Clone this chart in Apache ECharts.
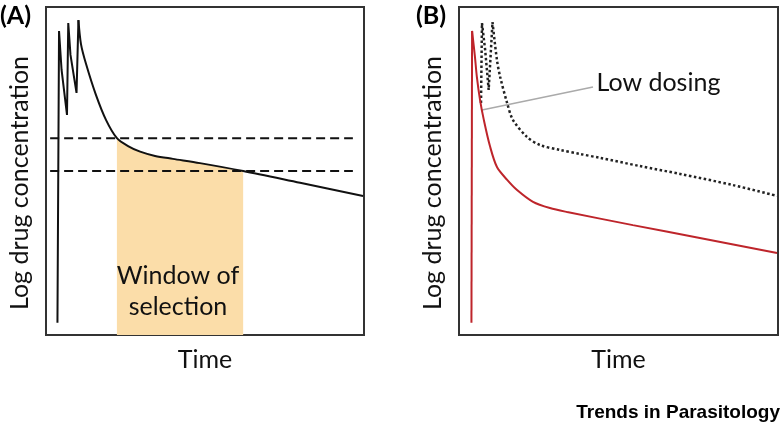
<!DOCTYPE html>
<html>
<head>
<meta charset="utf-8">
<script src="https://cdn.jsdelivr.net/npm/echarts@6/dist/echarts.min.js"></script>
<style>
  html, body { margin: 0; padding: 0; background: #fff; }
  #chart { width: 784px; height: 427px; }
</style>
</head>
<body>
<div id="chart"></div>
<script>
// ---------- Data (arbitrary units: time 0-100, log concentration 0-100) ----------
// Panel A: repeated dosing curve
const curveATime = [3.6, 4.1, 4.9, 6.6, 7.0, 7.7, 9.6, 10.2, 11.0, 12.6, 15.7, 18.9, 22.3, 25.8, 29.6, 34.3, 39.9, 48.4, 62.0, 79.9, 99.7];
const curveAConc = [3.7, 92.7, 80.8, 67.1, 95.1, 85.4, 73.8, 96.0, 88.7, 82.6, 73.2, 65.5, 60.0, 57.6, 55.9, 54.6, 53.7, 52.4, 50.0, 46.4, 42.4];
// Threshold concentrations (dashed lines) and their time span
const thresholdConc = [60, 50];
const thresholdSpan = [1.3, 96.5];
// Window of selection (time bounds)
const windowBounds = [22.3, 62.0];

// Panel B: low dosing (red) and standard dosing (dotted)
const lowDoseTime = [3.9, 4.1, 5.0, 5.6, 6.6, 7.8, 9.7, 11.9, 15.1, 18.2, 23.2, 28.5, 33.9, 54.5, 75.5, 99.7];
const lowDoseConc = [3.7, 92.7, 84.8, 78.7, 71.6, 65.5, 57.6, 51.2, 47.3, 44.2, 40.6, 38.7, 37.5, 33.5, 29.6, 25.0];
const stdDoseTime = [6.9, 7.2, 8.2, 9.3, 10.5, 11.9, 12.9, 15.1, 16.9, 21.3, 25.4, 31.7, 37.9, 44.2, 56.7, 69.3, 85.9, 99.7];
const stdDoseConc = [70.7, 95.1, 86.9, 74.7, 95.4, 83.8, 78.7, 70.7, 65.6, 60.4, 57.9, 56.4, 55.2, 54.0, 51.5, 49.1, 45.7, 42.4];
// Annotation pointer for "Low dosing"
const pointerTime = [7.2, 42.0];
const pointerConc = [68.6, 75.6];

// Text
const panelLabels = ['(A)', '(B)'];
const xAxisTitle = 'Time';
const yAxisTitle = 'Log drug concentration';
const windowLabel = 'Window of\nselection';
const pointerLabel = 'Low dosing';
const sourceLabel = 'Trends in Parasitology';

// ---------- Build ----------
const zip = (xs, ys) => xs.map((x, i) => [x, ys[i]]);
// split a curve at its last dose peak: sharp dosing part + smooth elimination part
function splitAtLastPeak(pts) {
  let k = 0;
  for (let i = 1; i < pts.length - 1; i++) {
    if (pts[i][1] > pts[i - 1][1] && pts[i][1] > pts[i + 1][1]) k = i;
  }
  return [pts.slice(0, k + 1), pts.slice(k)];
}
const curveA = zip(curveATime, curveAConc);
const [dosingA, decayA] = splitAtLastPeak(curveA);
const windowArea = curveA.filter(p => p[0] >= windowBounds[0] && p[0] <= windowBounds[1]);
const [dosingLow, decayLow] = splitAtLastPeak(zip(lowDoseTime, lowDoseConc));
const [dosingStd, decayStd] = splitAtLastPeak(zip(stdDoseTime, stdDoseConc));

const FONT = 'Lato';
const textColor = '#111';
const RED = '#BE252B';
const SMOOTH = 0.3;

function axisPair(gridIndex) {
  return {
    x: {
      type: 'value', gridIndex, min: 0, max: 100,
      axisLine: { show: false }, axisTick: { show: false }, axisLabel: { show: false }, splitLine: { show: false },
      name: xAxisTitle, nameLocation: 'middle', nameGap: 12,
      nameTextStyle: { fontFamily: FONT, fontSize: 25, color: textColor }
    },
    y: {
      type: 'value', gridIndex, min: 0, max: 100,
      axisLine: { show: false }, axisTick: { show: false }, axisLabel: { show: false }, splitLine: { show: false },
      name: yAxisTitle, nameLocation: 'middle', nameRotate: 90, nameGap: 14,
      nameTextStyle: { fontFamily: FONT, fontSize: 25, color: textColor, padding: [0, 24, 0, 0] }
    }
  };
}
const axA = axisPair(0), axB = axisPair(1);

function lineSeries(name, gi, data, lineStyle, z, smooth) {
  return {
    name, type: 'line', xAxisIndex: gi, yAxisIndex: gi, data, showSymbol: false,
    smooth: smooth ? SMOOTH : false,
    lineStyle, z
  };
}

const option = {
  animation: false,
  backgroundColor: '#fff',
  title: [
    { text: panelLabels[0], left: 0, top: 3, padding: 0,
      textStyle: { fontFamily: FONT, fontWeight: 'bold', fontSize: 25, color: '#000' } },
    { text: panelLabels[1], left: 416, top: 3, padding: 0,
      textStyle: { fontFamily: FONT, fontWeight: 'bold', fontSize: 25, color: '#000' } },
    { text: sourceLabel, right: 4, top: 403, padding: 0,
      textStyle: { fontFamily: 'Liberation Sans', fontWeight: 'bold', fontSize: 19, color: '#000' } }
  ],
  grid: [
    { left: 46, top: 7, width: 318, height: 328, show: true, borderColor: '#333', borderWidth: 2 },
    { left: 459, top: 7, width: 319, height: 328, show: true, borderColor: '#333', borderWidth: 2 }
  ],
  xAxis: [axA.x, axB.x],
  yAxis: [axA.y, axB.y],
  series: [
    {
      name: 'Window of selection', type: 'line', xAxisIndex: 0, yAxisIndex: 0,
      data: windowArea, showSymbol: false, smooth: SMOOTH, lineStyle: { width: 0 },
      areaStyle: { color: '#FBDDA9', opacity: 1, origin: 'start' }, z: 1,
      markPoint: {
        symbol: 'circle', symbolSize: 1, itemStyle: { color: 'rgba(0,0,0,0)' },
        label: { show: true, position: 'inside', formatter: windowLabel,
          fontFamily: FONT, fontSize: 25, lineHeight: 31, color: textColor },
        data: [{ coord: [41.5, 13.4] }]
      }
    },
    lineSeries('Upper threshold', 0, thresholdSpan.map(t => [t, thresholdConc[0]]),
      { color: '#111', width: 2, type: [9, 5] }, 3, false),
    lineSeries('Lower threshold', 0, thresholdSpan.map(t => [t, thresholdConc[1]]),
      { color: '#111', width: 2, type: [9, 5] }, 3, false),
    lineSeries('Concentration (dosing)', 0, dosingA, { color: '#111', width: 2 }, 4, false),
    lineSeries('Concentration (elimination)', 0, decayA, { color: '#111', width: 2 }, 4, true),
    {
      name: 'Pointer', type: 'line', xAxisIndex: 1, yAxisIndex: 1,
      data: zip(pointerTime, pointerConc), showSymbol: false,
      lineStyle: { color: '#aaa', width: 1.5 }, z: 2,
      markPoint: {
        symbol: 'circle', symbolSize: 1, itemStyle: { color: 'rgba(0,0,0,0)' },
        label: { show: true, position: 'right', distance: 3, offset: [0, -4], formatter: pointerLabel,
          fontFamily: FONT, fontSize: 25, color: textColor },
        data: [{ coord: [pointerTime[1], pointerConc[1]] }]
      }
    },
    lineSeries('Standard dosing (dosing)', 1, dosingStd, { color: '#222', width: 2.5, type: [2.5, 2.5] }, 3, false),
    lineSeries('Standard dosing (elimination)', 1, decayStd, { color: '#222', width: 2.5, type: [2.5, 2.5] }, 3, true),
    lineSeries('Low dosing (dosing)', 1, dosingLow, { color: RED, width: 2 }, 4, false),
    lineSeries('Low dosing (elimination)', 1, decayLow, { color: RED, width: 2 }, 4, true)
  ]
};

const chart = echarts.init(document.getElementById('chart'), null, { renderer: 'canvas' });
chart.setOption(option);
</script>
</body>
</html>
